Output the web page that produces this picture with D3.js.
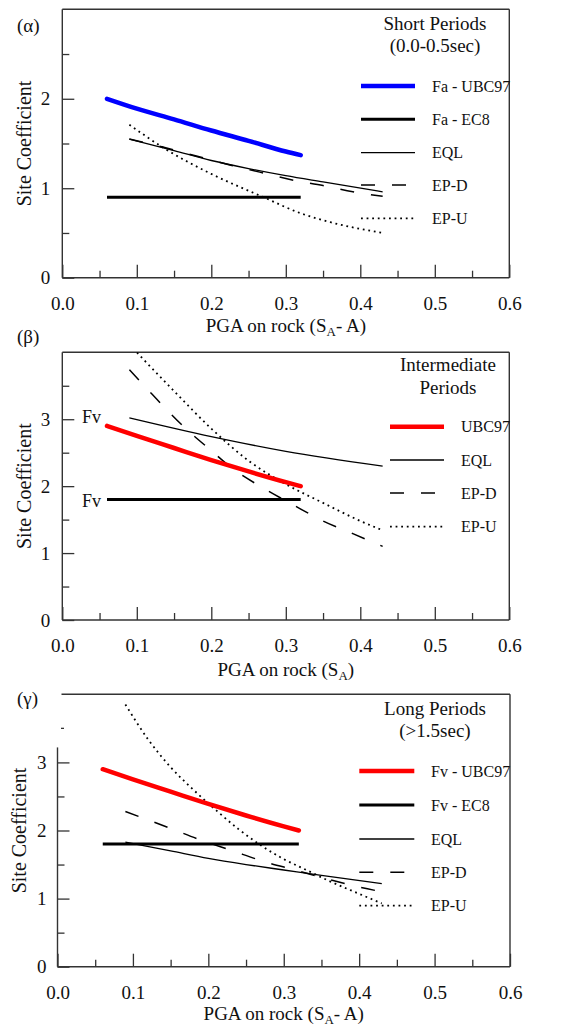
<!DOCTYPE html>
<html>
<head>
<meta charset="utf-8">
<script src="https://cdn.jsdelivr.net/npm/d3@7"></script>
<style>
  html, body { margin: 0; padding: 0; background: #fff; }
  svg text { font-family: "Liberation Serif", "Times New Roman", Times, serif; fill: #111; }
</style>
</head>
<body>
<svg id="chart" width="565" height="1027"></svg>
<script>
// ---------- data ----------
const pgaTicks = [0, 0.1, 0.2, 0.3, 0.4, 0.5, 0.6];
const pgaMinorTicks = [0.05, 0.15, 0.25, 0.35, 0.45, 0.55];

// (α) short periods: [PGA on rock, site coefficient]
const shortFaUBC97 = [[0.06, 2.0], [0.1, 1.89], [0.15, 1.77], [0.2, 1.645], [0.25, 1.53], [0.3, 1.41], [0.32, 1.37]];
const shortFaEC8   = [[0.06, 0.9], [0.32, 0.9]];
const shortEQL     = [[0.09, 1.55], [0.15, 1.42], [0.2, 1.31], [0.25, 1.22], [0.3, 1.14], [0.35, 1.07], [0.43, 0.96]];
const shortEPD     = [[0.09, 1.55], [0.135, 1.46], [0.18, 1.36], [0.225, 1.26], [0.265, 1.18], [0.31, 1.09], [0.35, 1.03], [0.39, 0.96], [0.43, 0.91]];
const shortEPU     = [[0.09, 1.71], [0.14, 1.43], [0.2, 1.16], [0.27, 0.90], [0.32, 0.72], [0.36, 0.62], [0.43, 0.50]];

// (β) intermediate periods
const interFvUBC97 = [[0.06, 2.9], [0.1, 2.75], [0.15, 2.57], [0.2, 2.39], [0.25, 2.22], [0.3, 2.06], [0.32, 2.0]];
const interFvEC8   = [[0.06, 1.8], [0.32, 1.8]];
const interEQL     = [[0.09, 3.02], [0.2, 2.74], [0.3, 2.52], [0.43, 2.30]];
const interEPD     = [[0.09, 3.74], [0.12, 3.38], [0.16, 2.92], [0.2, 2.53], [0.23, 2.25], [0.27, 1.97], [0.31, 1.72], [0.35, 1.48], [0.39, 1.29], [0.43, 1.10]];
const interEPU     = [[0.09, 4.12], [0.1, 4.0], [0.15, 3.42], [0.2, 2.86], [0.25, 2.38], [0.3, 2.03], [0.35, 1.75], [0.4, 1.48], [0.43, 1.34]];

// (γ) long periods
const longFvUBC97 = [[0.06, 2.9], [0.1, 2.75], [0.15, 2.57], [0.2, 2.39], [0.25, 2.22], [0.3, 2.06], [0.32, 2.0]];
const longFvEC8   = [[0.06, 1.8], [0.32, 1.8]];
const longEQL     = [[0.09, 1.83], [0.15, 1.70], [0.2, 1.59], [0.25, 1.50], [0.3, 1.42], [0.35, 1.34], [0.43, 1.22]];
const longEPD     = [[0.09, 2.28], [0.15, 2.03], [0.19, 1.86], [0.23, 1.71], [0.275, 1.54], [0.315, 1.42], [0.357, 1.29], [0.4, 1.17], [0.43, 1.10]];
const longEPU     = [[0.09, 3.85], [0.12, 3.34], [0.15, 2.93], [0.18, 2.60], [0.21, 2.30], [0.24, 2.02], [0.27, 1.78], [0.3, 1.58], [0.33, 1.42], [0.36, 1.26], [0.4, 1.07], [0.43, 0.93]];

// ---------- line styles ----------
const styles = {
  blue:  { stroke: "#0000ff", width: 4.5, cap: "round" },
  red:   { stroke: "#ff0000", width: 4.5, cap: "round" },
  black: { stroke: "#000", width: 3, cap: "butt" },
  eql:   { stroke: "#000", width: 1.3, cap: "butt" },
  epd:   { stroke: "#000", width: 1.5, cap: "butt", dash: "14,17" },
  epu:   { stroke: "#000", width: 1.8, cap: "butt", dash: "1.8,3.8" }
};

const panels = [
  {
    key: "a", letter: "(\u03b1)", letterY: 32,
    left: 62.3, right: 509.3, top: 9.3, bottom: 277.7, yMax: 3,
    yLabels: [0, 1, 2], yMinor: [0.5, 1.5, 2.5], yPad: 12,
    yTitleX: 31, xTitleY: 332, xTitleSub: true,
    title: ["Short Periods", "(0.0-0.5sec)"], titleX: 435, titleY: [30, 52],
    legendX0: 361, legendX1: 415, legendTextX: 432, legendY: [86, 119.3, 152.7, 185, 218.3],
    series: [
      { name: "Fa - UBC97", data: shortFaUBC97, style: "blue" },
      { name: "Fa - EC8",   data: shortFaEC8,   style: "black" },
      { name: "EQL",        data: shortEQL,     style: "eql" },
      { name: "EP-D",       data: shortEPD,     style: "epd" },
      { name: "EP-U",       data: shortEPU,     style: "epu" }
    ]
  },
  {
    key: "b", letter: "(\u03b2)", letterY: 343,
    left: 62.3, right: 509.3, top: 352.3, bottom: 620, yMax: 4,
    yLabels: [0, 1, 2, 3], yMinor: [0.5, 1.5, 2.5, 3.5], yPad: 12,
    yTitleX: 31, xTitleY: 676, xTitleSub: false,
    title: ["Intermediate", "Periods"], titleX: 448, titleY: [371, 394],
    legendX0: 390, legendX1: 444, legendTextX: 461, legendY: [426.7, 460, 493, 526.7],
    series: [
      { name: "UBC97", data: interFvUBC97, style: "red" },
      { name: null,    data: interFvEC8,   style: "black" },
      { name: "EQL",   data: interEQL,     style: "eql" },
      { name: "EP-D",  data: interEPD,     style: "epd" },
      { name: "EP-U",  data: interEPU,     style: "epu" }
    ],
    fv: [{ y: 423 }, { y: 507 }]
  },
  {
    key: "c", letter: "(\u03b3)", letterY: 705,
    left: 57.5, right: 510, top: 694.3, bottom: 966.7, yMax: 4,
    yLabels: [0, 1, 2, 3], yMinor: [0.5, 1.5, 2.5], yPad: 11,
    yTitleX: 25.5, xTitleY: 1020, xTitleSub: true,
    leftAxisTop: 3.22, topFrameStart: 61.5, stubTick: 3.5,
    title: ["Long Periods", "(>1.5sec)"], titleX: 435, titleY: [715, 737],
    legendX0: 359.3, legendX1: 414.3, legendTextX: 431, legendY: [771, 805, 839, 872.3, 905.7],
    series: [
      { name: "Fv - UBC97", data: longFvUBC97, style: "red" },
      { name: "Fv - EC8",   data: longFvEC8,   style: "black" },
      { name: "EQL",        data: longEQL,     style: "eql" },
      { name: "EP-D",       data: longEPD,     style: "epd" },
      { name: "EP-U",       data: longEPU,     style: "epu" }
    ]
  }
];

const serif = "'Liberation Serif', 'Times New Roman', Times, serif";
const svg = d3.select("#chart").attr("font-family", serif);
const axisColor = "#333";

function applyStyle(sel, s) {
  sel.attr("fill", "none")
    .attr("stroke", s.stroke)
    .attr("stroke-width", s.width)
    .attr("stroke-linecap", s.cap || "butt")
    .attr("stroke-linejoin", "round")
    .attr("stroke-dasharray", s.dash || null);
}

function styleAxis(sel) {
  sel.attr("font-family", serif);
  sel.select(".domain").remove();
  sel.selectAll(".tick line").attr("stroke", axisColor).attr("stroke-width", 1.3);
  sel.selectAll(".tick text").attr("font-size", 19).attr("fill", "#111");
}

function drawPanel(p) {
  const x = d3.scaleLinear().domain([0, 0.6]).range([p.left, p.right]);
  const y = d3.scaleLinear().domain([0, p.yMax]).range([p.bottom, p.top]);
  const g = svg.append("g").attr("class", "panel-" + p.key);

  const clipId = "clip-" + p.key;
  g.append("clipPath").attr("id", clipId)
    .append("rect")
    .attr("x", p.left).attr("y", p.top)
    .attr("width", p.right - p.left).attr("height", p.bottom - p.top);

  // axes: major + minor ticks pointing inward
  g.append("g").attr("transform", `translate(0,${p.bottom})`)
    .call(d3.axisBottom(x).tickValues(pgaMinorTicks).tickSize(-7).tickFormat(""))
    .call(styleAxis);
  g.append("g").attr("transform", `translate(0,${p.bottom})`)
    .call(d3.axisBottom(x).tickValues(pgaTicks).tickSize(-13).tickPadding(19).tickFormat(d3.format(".1f")))
    .call(styleAxis);

  const minorY = p.yMinor.filter(v => v !== p.stubTick);
  g.append("g").attr("transform", `translate(${p.left},0)`)
    .call(d3.axisLeft(y).tickValues(minorY).tickSize(-7).tickFormat(""))
    .call(styleAxis);
  g.append("g").attr("transform", `translate(${p.left},0)`)
    .call(d3.axisLeft(y).tickValues(p.yLabels).tickSize(-12).tickPadding(p.yPad).tickFormat(d3.format("d")))
    .call(styleAxis);

  if (p.stubTick !== undefined) {
    g.append("line")
      .attr("x1", p.left + 3.5).attr("x2", p.left + 6.5)
      .attr("y1", y(p.stubTick)).attr("y2", y(p.stubTick))
      .attr("stroke", axisColor).attr("stroke-width", 1.3);
  }

  // frame
  const frame = g.append("g").attr("stroke", axisColor).attr("stroke-width", 1.4);
  frame.append("line").attr("x1", p.left).attr("x2", p.right).attr("y1", p.bottom).attr("y2", p.bottom);
  frame.append("line").attr("x1", p.right).attr("x2", p.right).attr("y1", p.top).attr("y2", p.bottom);
  frame.append("line").attr("x1", p.topFrameStart || p.left).attr("x2", p.right).attr("y1", p.top).attr("y2", p.top);
  frame.append("line").attr("x1", p.left).attr("x2", p.left)
    .attr("y1", p.bottom).attr("y2", y(p.leftAxisTop !== undefined ? p.leftAxisTop : p.yMax));

  // series
  const line = d3.line().x(d => x(d[0])).y(d => y(d[1])).curve(d3.curveMonotoneX);
  const plot = g.append("g").attr("clip-path", `url(#${clipId})`);
  const order = ["eql", "epd", "epu", "black", "blue", "red"];
  p.series.slice().sort((a, b) => order.indexOf(a.style) - order.indexOf(b.style))
    .forEach(s => {
      plot.append("path").attr("d", line(s.data)).call(applyStyle, styles[s.style]);
    });

  // legend
  const legendItems = p.series.filter(s => s.name);
  legendItems.forEach((s, i) => {
    const ly = p.legendY[i];
    g.append("line")
      .attr("x1", p.legendX0).attr("x2", p.legendX1)
      .attr("y1", ly).attr("y2", ly)
      .call(applyStyle, Object.assign({}, styles[s.style], { cap: "butt" }));
    g.append("text")
      .attr("x", p.legendTextX).attr("y", ly + 5.5)
      .attr("font-size", 16)
      .text(s.name);
  });

  // titles
  p.title.forEach((t, i) => {
    g.append("text").attr("x", p.titleX).attr("y", p.titleY[i])
      .attr("text-anchor", "middle").attr("font-size", 19).text(t);
  });

  // panel letter
  g.append("text").attr("x", 17).attr("y", p.letterY).attr("font-size", 19).text(p.letter);

  // y title
  const yMid = (p.top + p.bottom) / 2;
  g.append("text")
    .attr("transform", `translate(${p.yTitleX},${yMid}) rotate(-90)`)
    .attr("text-anchor", "middle").attr("font-size", 20)
    .text("Site Coefficient");

  // x title with subscript
  const xt = g.append("text")
    .attr("x", (p.left + p.right) / 2).attr("y", p.xTitleY)
    .attr("text-anchor", "middle").attr("font-size", 19);
  xt.append("tspan").text("PGA on rock (S");
  xt.append("tspan").attr("font-size", 13).attr("dy", 4).text("A");
  xt.append("tspan").attr("dy", -4).text(p.xTitleSub ? "- A)" : ")");

  // Fv labels next to the code curves
  if (p.fv) {
    p.fv.forEach(f => {
      g.append("text").attr("x", 101).attr("y", f.y)
        .attr("text-anchor", "end").attr("font-size", 18).text("Fv");
    });
  }
}

panels.forEach(drawPanel);
</script>
</body>
</html>
